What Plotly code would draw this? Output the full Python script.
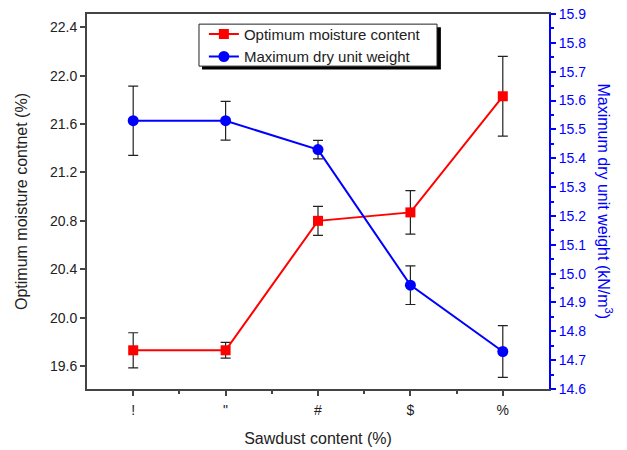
import plotly.graph_objects as go

categories = ["!", "\"", "#", "$", "%"]
moisture = [19.73, 19.73, 20.80, 20.87, 21.83]
moisture_err = [0.145, 0.065, 0.12, 0.18, 0.33]
dry_weight = [15.53, 15.53, 15.43, 14.96, 14.73]
dry_weight_err = [0.12, 0.067, 0.032, 0.067, 0.09]

left_ticks = [19.6, 20.0, 20.4, 20.8, 21.2, 21.6, 22.0, 22.4]
right_ticks = [14.6, 14.7, 14.8, 14.9, 15.0, 15.1, 15.2, 15.3, 15.4, 15.5, 15.6, 15.7, 15.8, 15.9]

FONT = "Liberation Sans, Arial, sans-serif"
xpos = list(range(len(categories)))

fig = go.Figure()
fig.add_trace(go.Scatter(
    x=xpos, y=moisture, name="Optimum moisture content",
    mode="lines+markers",
    line=dict(color="#ff0000", width=2),
    marker=dict(symbol="square", size=10, color="#ff0000"),
    error_y=dict(type="data", array=moisture_err, visible=True, color="#222222", thickness=1.2, width=5),
    yaxis="y",
))
fig.add_trace(go.Scatter(
    x=xpos, y=dry_weight, name="Maximum dry unit weight",
    mode="lines+markers",
    line=dict(color="#0000ff", width=2),
    marker=dict(symbol="circle", size=11, color="#0000ff"),
    error_y=dict(type="data", array=dry_weight_err, visible=True, color="#222222", thickness=1.2, width=5),
    yaxis="y2",
))

fig.update_layout(
    width=627, height=450,
    margin=dict(l=87, r=78, t=14, b=61, autoexpand=False),
    paper_bgcolor="white", plot_bgcolor="white",
    font=dict(family=FONT, size=14, color="#222222"),
    showlegend=True,
    legend=dict(
        x=0.253, y=0.99, xanchor="left", yanchor="top",
        bgcolor="rgba(0,0,0,0)", borderwidth=0,
        font=dict(family=FONT, size=15, color="#222222"),
        tracegroupgap=0, itemwidth=30,
    ),
    shapes=[
        dict(type="rect", xref="paper", yref="paper",
             x0=0.249, x1=0.766, y0=0.852, y1=0.965,
             fillcolor="black", line=dict(width=0), layer="above"),
        dict(type="rect", xref="paper", yref="paper",
             x0=0.2424, x1=0.7576, y0=0.861, y1=0.973,
             fillcolor="white", line=dict(width=1, color="#222222"), layer="above"),
    ],
    xaxis=dict(
        range=[-0.5, 4.5], automargin=False,
        tickmode="array", tickvals=xpos, ticktext=categories,
        ticks="outside", ticklen=5, tickwidth=1.5, tickcolor="#444444",
        ticklabelstandoff=2,
        minor=dict(tickvals=[0.5, 1.5, 2.5, 3.5], ticks="outside", ticklen=3, tickcolor="#444444", tickwidth=1.5),
        showline=True, linecolor="#444444", linewidth=2, mirror=True,
        showgrid=False, zeroline=False,
        title=dict(text="Sawdust content (%)", font=dict(size=16), standoff=16),
        tickfont=dict(size=14),
    ),
    yaxis=dict(
        range=[19.41, 22.51], automargin=False,
        tickmode="array", tickvals=left_ticks,
        ticktext=[f"{v:.1f}" for v in left_ticks],
        ticks="outside", ticklen=5, tickwidth=1.5, tickcolor="#444444",
        showline=True, linecolor="#444444", linewidth=2,
        showgrid=False, zeroline=False,
        title=dict(text="Optimum moisture contnet (%)", font=dict(size=16), standoff=18),
        tickfont=dict(size=14),
    ),
    yaxis2=dict(
        range=[14.6, 15.9], overlaying="y", side="right", automargin=False,
        tickmode="array", tickvals=right_ticks,
        ticktext=[f"{v:.1f}" for v in right_ticks],
        ticks="outside", ticklen=5, tickwidth=1.5, tickcolor="#0000ff",
        minor=dict(dtick=0.05, ticks="outside", ticklen=3, tickcolor="#0000ff", tickwidth=1.5),
        showline=True, linecolor="#0000ff", linewidth=2,
        showgrid=False, zeroline=False,
        tickfont=dict(size=14, color="#0000ff"),
    ),
    annotations=[dict(
        text="Maximum dry unit weight (kN/m<sup>3</sup>)",
        xref="paper", yref="paper", x=1.0, y=0.5, xshift=68,
        showarrow=False, textangle=90,
        font=dict(family=FONT, size=16, color="#0000ff"),
    )],
)

fig.write_html("out.html")
